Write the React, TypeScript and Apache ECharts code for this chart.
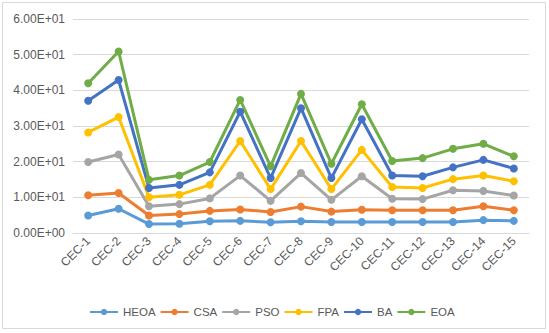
import React, { useEffect, useRef } from "react";
import * as echarts from "echarts";

const categories = [
  "CEC-1", "CEC-2", "CEC-3", "CEC-4", "CEC-5", "CEC-6", "CEC-7", "CEC-8",
  "CEC-9", "CEC-10", "CEC-11", "CEC-12", "CEC-13", "CEC-14", "CEC-15",
];
const HEOA = [4.9, 6.8, 2.5, 2.6, 3.3, 3.4, 3.0, 3.3, 3.1, 3.1, 3.1, 3.1, 3.1, 3.6, 3.4];
const CSA = [10.6, 11.2, 4.9, 5.3, 6.2, 6.6, 5.9, 7.4, 6.0, 6.5, 6.4, 6.4, 6.4, 7.5, 6.4];
const PSO = [19.9, 22.0, 7.5, 8.1, 9.7, 16.1, 9.0, 16.8, 9.3, 15.9, 9.6, 9.5, 12.0, 11.8, 10.5];
const FPA = [28.2, 32.5, 10.0, 10.7, 13.5, 25.8, 12.3, 25.8, 12.3, 23.3, 12.9, 12.6, 15.1, 16.1, 14.5];
const BA = [37.1, 42.9, 12.6, 13.5, 17.0, 34.0, 15.4, 35.0, 15.4, 31.9, 16.1, 15.9, 18.4, 20.5, 18.1];
const EOA = [42.0, 50.9, 14.9, 16.1, 19.9, 37.3, 18.7, 39.0, 19.4, 36.1, 20.2, 21.0, 23.6, 25.0, 21.5];

const seriesNames = ["HEOA", "CSA", "PSO", "FPA", "BA", "EOA"];
const seriesData = [HEOA, CSA, PSO, FPA, BA, EOA];
const colors = ["#5B9BD5", "#ED7D31", "#A5A5A5", "#FFC000", "#4472C4", "#70AD47"];

const FONT = "'Liberation Sans', Arial, sans-serif";

function fmt(v: number): string {
  const s = v.toExponential(2);
  const [m, e] = s.split("e");
  const sign = e[0] === "-" ? "-" : "+";
  const d = e.replace(/[+-]/, "").padStart(2, "0");
  return `${m}E${sign}${d}`;
}

export default function App() {
  const ref = useRef<HTMLDivElement>(null);
  useEffect(() => {
    if (!ref.current) return;
    const chart = echarts.init(ref.current, undefined, { renderer: "svg" });
    chart.setOption({
      animation: false,
      backgroundColor: "#ffffff",
      textStyle: { fontFamily: FONT },
      graphic: [
        {
          type: "rect",
          shape: { x: 2.5, y: 2.5, width: 543, height: 326 },
          style: { fill: "none", stroke: "#d9d9d9", lineWidth: 1 },
          silent: true,
        },
      ],
      grid: { left: 73, right: 20, top: 19, bottom: 100, containLabel: false },
      legend: {
        left: 84,
        top: 301,
        itemWidth: 28,
        itemHeight: 8,
        itemGap: 4,
        textStyle: { color: "#595959", fontSize: 11.5, fontFamily: FONT },
        data: seriesNames,
      },
      xAxis: {
        type: "category",
        data: categories,
        boundaryGap: true,
        axisLine: { lineStyle: { color: "#d9d9d9", width: 1 } },
        axisTick: { show: false },
        axisLabel: {
          rotate: 45,
          color: "#595959",
          fontSize: 12,
          margin: 6,
          fontFamily: FONT,
          interval: 0,
        },
      },
      yAxis: {
        type: "value",
        min: 0,
        max: 60,
        interval: 10,
        axisLine: { show: false },
        axisTick: { show: false },
        splitLine: { lineStyle: { color: "#d9d9d9", width: 1 } },
        axisLabel: {
          color: "#595959",
          fontSize: 12,
          margin: 8,
          fontFamily: FONT,
          formatter: (v: number) => fmt(v),
        },
      },
      series: seriesNames.map((name, i) => ({
        name,
        type: "line",
        data: seriesData[i],
        color: colors[i],
        symbol: "circle",
        symbolSize: 8,
        lineStyle: { width: 3, color: colors[i] },
        itemStyle: { color: colors[i] },
      })),
    });
    return () => chart.dispose();
  }, []);
  return (
    <div
      ref={ref}
      style={{ position: "absolute", left: 0, top: 0, width: 549, height: 333 }}
    />
  );
}
